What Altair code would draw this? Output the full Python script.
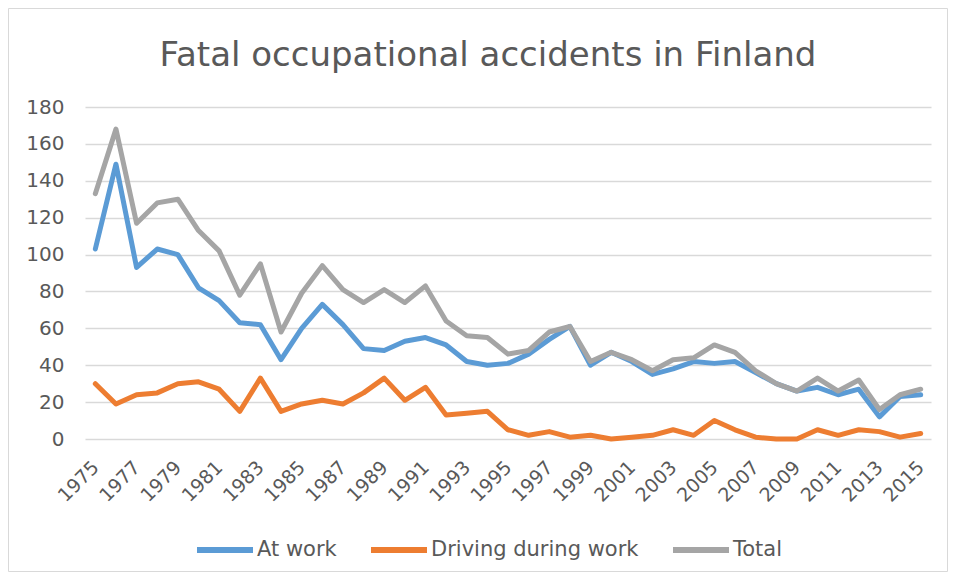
import altair as alt
import pandas as pd

years = list(range(1975, 2016))
at_work = [103, 149, 93, 103, 100, 82, 75, 63, 62, 43,
           60, 73, 62, 49, 48, 53, 55, 51, 42, 40,
           41, 46, 54, 61, 40, 47, 42, 35, 38, 42,
           41, 42, 36, 30, 26, 28, 24, 27, 12, 23, 24]
driving = [30, 19, 24, 25, 30, 31, 27, 15, 33, 15,
           19, 21, 19, 25, 33, 21, 28, 13, 14, 15,
           5, 2, 4, 1, 2, 0, 1, 2, 5, 2,
           10, 5, 1, 0, 0, 5, 2, 5, 4, 1, 3]
total = [133, 168, 117, 128, 130, 113, 102, 78, 95, 58,
         79, 94, 81, 74, 81, 74, 83, 64, 56, 55,
         46, 48, 58, 61, 42, 47, 43, 37, 43, 44,
         51, 47, 37, 30, 26, 33, 26, 32, 16, 24, 27]
series_names = ["At work", "Driving during work", "Total"]
series_colors = ["#5b9bd5", "#ed7d31", "#a5a5a5"]
tick_years = list(range(1975, 2016, 2))
y_ticks = list(range(0, 181, 20))

rows = []
for name, vals in zip(series_names, [at_work, driving, total]):
    for y, v in zip(years, vals):
        rows.append({"Year": y, "Value": v, "Series": name})
df = pd.DataFrame(rows)

FONT = "DejaVu Sans"
TXT = "#595959"

lines = alt.Chart(df).mark_line(strokeWidth=5, strokeCap="round", strokeJoin="round").encode(
    x=alt.X("Year:Q",
            scale=alt.Scale(domain=[1974.5, 2015.5], nice=False, zero=False),
            axis=alt.Axis(values=tick_years, format="d", labelAngle=-45, labelAlign="right",
                          labelBaseline="middle", labelPadding=25, labelFontSize=19,
                          labelColor=TXT, labelFont=FONT, ticks=False, domain=False,
                          grid=False, title=None, labelOverlap=False)),
    y=alt.Y("Value:Q",
            scale=alt.Scale(domain=[0, 180], nice=False),
            axis=alt.Axis(values=y_ticks, labelFontSize=20, labelColor=TXT, labelFont=FONT,
                          labelPadding=21, ticks=False, domain=False, grid=True,
                          gridColor="#d9d9d9", gridWidth=1.5, title=None)),
    color=alt.Color("Series:N",
                    scale=alt.Scale(domain=series_names, range=series_colors),
                    legend=alt.Legend(orient="none", legendX=109, legendY=412,
                                      direction="horizontal", title=None,
                                      symbolType="stroke", symbolSize=3136,
                                      symbolStrokeWidth=6, labelFontSize=21,
                                      labelColor=TXT, labelFont=FONT, labelOffset=1,
                                      labelLimit=0, columnPadding=22, padding=0)),
)

border_df = pd.DataFrame({"a": [0]})
border = alt.Chart(border_df).mark_rect(fill=None, stroke="#d9d9d9", strokeWidth=1).encode(
    x=alt.value(-76.5), x2=alt.value(862.5), y=alt.value(-98.5), y2=alt.value(464.5)
)

chart = alt.layer(border, lines).properties(
    width=846, height=332,
    title=alt.TitleParams("Fatal occupational accidents in Finland", fontSize=34, font=FONT,
                          color=TXT, fontWeight="normal", anchor="middle", frame="group",
                          baseline="alphabetic", offset=42, dx=-20, dy=133.5),
    autosize=alt.AutoSizeParams(type="none"),
    padding={"left": 77, "top": 99, "right": 17, "bottom": 141},
).configure_view(stroke=None)

chart.save("out.html", embed_options={"renderer": "svg", "actions": False})
